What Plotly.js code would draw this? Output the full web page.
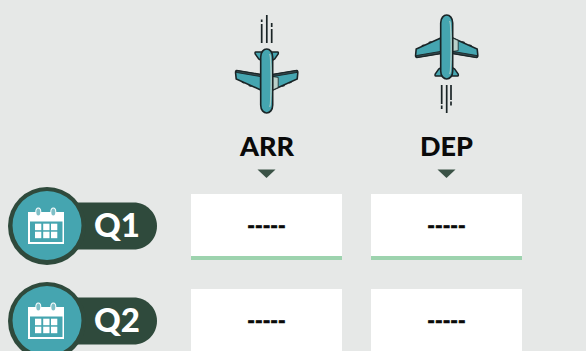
<!DOCTYPE html>
<html><head><meta charset="utf-8">
<script src="https://cdn.plot.ly/plotly-3.0.1.min.js"></script>
<style>html,body{margin:0;padding:0;background:#e6e8e7}
.textpoint text{stroke:#0a0a0a;stroke-width:0.7px}</style></head>
<body><div id="c" style="width:586px;height:351px"></div>
<script>
const columns = ['ARR','DEP'];
const quarters = ['Q1','Q2'];
const arrValues = ['-----','-----'];
const depValues = ['-----','-----'];

const BG='#e6e8e7',TEAL='#45a5b0',DARK='#2f4a3c',GREEN='#9dd3ae',INK='#1a2426',PALE='#b9d1ca';
const colX=[266.5,446.5], rowY=[225,320], planeY=[81,47], planeDir=[1,-1];
const shapes=[];
const add=(path,fill,line,w,layer)=>shapes.push({type:'path',xref:'x',yref:'y',path,fillcolor:fill||'rgba(0,0,0,0)',line:{color:line||'rgba(0,0,0,0)',width:w||0},layer:layer||'above'});
const rect=(x0,y0,x1,y1,fill,layer)=>add(`M${x0},${y0}L${x1},${y0}L${x1},${y1}L${x0},${y1}Z`,fill,null,0,layer);
const circ=(cx,cy,r,fill)=>shapes.push({type:'circle',xref:'x',yref:'y',x0:cx-r,x1:cx+r,y0:cy-r,y1:cy+r,fillcolor:fill,line:{width:0},layer:'above'});

// panels
colX.forEach(cx=>rowY.forEach((ry,i)=>{
  rect(cx-75.5,ry-31,cx+75.5,ry+35,'#ffffff','below');
  if(i===0) rect(cx-75.5,ry+31,cx+75.5,ry+35,GREEN,'below');
}));
// triangles
colX.forEach(cx=>add(`M${cx-9},169.5L${cx+9},169.5L${cx},178Z`,'#3a5246'));

// plane glyph: u across, v toward the tail
function plane(cx,cy,d){
  const X=u=>cx+u, Y=v=>cy-d*v;
  const path=a=>a.map(s=>s[0]+s.slice(1).map((n,i)=>i%2?Y(n):X(n)).join(',')).join('')+'Z';
  // engines
  [-23,-16,16,23].forEach(u=>{const v=u*u>400?0:-3.4; circ(X(u),Y(v),2.4,INK);});
  // tail
  add(path([['M',-2,29],['L',-11,29],['Q',-12,29,-11.5,27],['L',-8,22],['L',-3,19],['L',3,19],['L',8,22],['L',11.5,27],['Q',12,29,11,29],['L',2,29]]),TEAL,INK,1.5);
  // wings
  add(path([['M',-6,6.5],['L',-30,10.5],['Q',-31.5,10.5,-31,7],['L',-30.5,2],['L',-6,-9]]),TEAL,INK,1.6);
  add(path([['M',6,6.5],['L',30,10.5],['Q',31.5,10.5,31,7],['L',30.5,2],['L',6,-9]]),TEAL,INK,1.6);
  add(path([['M',6,4.4],['L',11.5,3.6],['L',11.5,-6.5],['L',6,-9]]),PALE,INK,0.8);
  add(path([['M',-30.5,8.6],['L',-6,4.4],['L',-6,6.5],['L',-30,10.5]]),'#34494d',INK,0.9);
  add(path([['M',30.5,8.6],['L',6,4.4],['L',6,6.5],['L',30,10.5]]),'#34494d',INK,0.9);
  // fuselage
  add(path([['M',-6,-24],['C',-6,-29,-3,-32,0,-32],['C',3,-32,6,-29,6,-24],['L',6,24],['C',6,29,3,32,0,32],['C',-3,32,-6,29,-6,24]]),TEAL,INK,1.6);
  add(path([['M',3,-26],['C',4.6,-22,4.6,22,3,27],['C',5.4,24,5.4,-22,3,-26]]),PALE,PALE,0.6);
}
colX.forEach((cx,i)=>{
  plane(cx+0.2,planeY[i],planeDir[i]);
});
// speed lines
const line=(x,y0,y1)=>shapes.push({type:'line',xref:'x',yref:'y',x0:x,x1:x,y0,y1,line:{color:INK,width:1.7},layer:'above'});
[[261.7,24,43],[261.7,19.5,22],[266.8,15,43],[271.7,29,43],[271.7,23,27]].forEach(s=>line(...s));
[[441.7,85,104],[441.7,105.5,109],[446.7,85,113],[451,85,100],[451,101.5,105.5]].forEach(s=>line(...s));

// quarter badges
rowY.forEach(ry=>{
  const cy=ry+1, t=cy-23.5, b=cy+23.5, k=13;
  add(`M50,${t}L133.5,${t}C${133.5+k},${t} 157,${cy-k} 157,${cy}C157,${cy+k} ${133.5+k},${b} 133.5,${b}L50,${b}Z`,DARK);
  circ(47,cy,39,DARK);
  circ(47,cy-0.5,34.5,TEAL);
  const o=cy-226;
  rect(28,212+o,64,244+o,'#ffffff');
  rect(30,221.5+o,62.5,242+o,TEAL);
  [35,43.2,51].forEach(x=>[223.7,231.7].forEach(y=>rect(x,y+o,x+6.3,y+6.5+o,'#ffffff')));
  [38.3,53.3].forEach(x=>{
    shapes.push({type:'circle',xref:'x',yref:'y',x0:x-3,x1:x+3,y0:207.5+o,y1:216.5+o,fillcolor:'#ffffff',line:{width:0},layer:'above'});
    shapes.push({type:'circle',xref:'x',yref:'y',x0:x-2,x1:x+2,y0:208.5+o,y1:215.5+o,fillcolor:'#7fbfc7',line:{width:0},layer:'above'});
  });
});

const font=(size,color,weight)=>({family:'Lato, sans-serif',size,color,weight:weight||700});
const annotations=[];
columns.forEach((t,i)=>annotations.push({x:colX[i],y:145,xref:'x',yref:'y',text:t,showarrow:false,font:font(27,'#0a0a0a',900),xanchor:'center',yanchor:'middle'}));
quarters.forEach((t,i)=>annotations.push({x:116.5,y:rowY[i]-1.5,xref:'x',yref:'y',text:t,showarrow:false,font:font(33,'#ffffff',900),xanchor:'center',yanchor:'middle'}));

const traces=[arrValues,depValues].map((vals,i)=>({
  type:'scatter',mode:'text',x:vals.map(()=>colX[i]),y:rowY.map(y=>y+2.5),text:vals,
  textposition:'middle center',textfont:font(20.5,'#0a0a0a',900),cliponaxis:false,hoverinfo:'skip',showlegend:false
}));

Plotly.newPlot('c',traces,{
  width:586,height:351,margin:{l:0,r:0,t:0,b:0},
  paper_bgcolor:BG,plot_bgcolor:BG,showlegend:false,
  xaxis:{range:[0,586],visible:false,fixedrange:true},
  yaxis:{range:[351,0],visible:false,fixedrange:true},
  shapes,annotations
},{displayModeBar:false,staticPlot:true});
</script></body></html>
